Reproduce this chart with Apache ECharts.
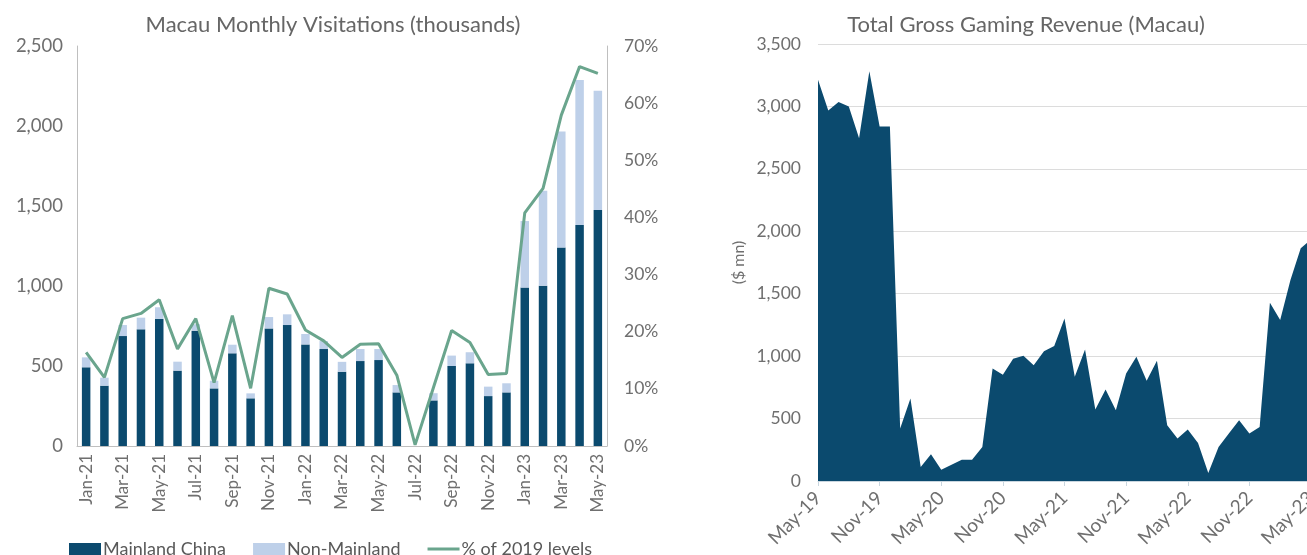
<!DOCTYPE html>
<html>
<head>
<meta charset="utf-8">
<title>Macau visitations and GGR</title>
<script src="https://cdn.jsdelivr.net/npm/echarts@6/dist/echarts.min.js"></script>
<style>
    html, body { margin: 0; padding: 0; overflow: hidden; background: #fff; }
    #main { width: 1340px; height: 555px; }
</style>
</head>
<body>
<div id="main"></div>
<script>
    // left chart: monthly visitations (thousands)
    var visitMonths = ['Jan-21','Feb-21','Mar-21','Apr-21','May-21','Jun-21','Jul-21','Aug-21','Sep-21','Oct-21','Nov-21','Dec-21',
        'Jan-22','Feb-22','Mar-22','Apr-22','May-22','Jun-22','Jul-22','Aug-22','Sep-22','Oct-22','Nov-22','Dec-22',
        'Jan-23','Feb-23','Mar-23','Apr-23','May-23'];
    var mainland = [492,377,687,729,794,471,721,360,579,298,735,756,635,606,464,531,537,335,0,285,500,517,312,335,990,1002,1240,1381,1475];
    var nonMainland = [62,50,69,73,73,56,40,48,54,31,71,67,65,50,62,75,69,46,0,45,65,69,59,57,416,594,725,907,746];
    var pctOf2019 = [16.4,12.0,22.3,23.2,25.6,17.0,22.3,11.1,22.8,10.1,27.6,26.6,20.3,18.4,15.5,17.8,17.9,12.4,0.2,10.2,20.2,18.1,12.5,12.7,40.8,45.1,57.9,66.4,65.2];

    // right chart: total gross gaming revenue ($ mn)
    var ggrMonths = ['May-19','Jun-19','Jul-19','Aug-19','Sep-19','Oct-19','Nov-19','Dec-19',
        'Jan-20','Feb-20','Mar-20','Apr-20','May-20','Jun-20','Jul-20','Aug-20','Sep-20','Oct-20','Nov-20','Dec-20',
        'Jan-21','Feb-21','Mar-21','Apr-21','May-21','Jun-21','Jul-21','Aug-21','Sep-21','Oct-21','Nov-21','Dec-21',
        'Jan-22','Feb-22','Mar-22','Apr-22','May-22','Jun-22','Jul-22','Aug-22','Sep-22','Oct-22','Nov-22','Dec-22',
        'Jan-23','Feb-23','Mar-23','Apr-23','May-23'];
    var ggr = [3214,2968,3035,3000,2746,3281,2840,2840,
        420,660,112,214,91,131,171,171,273,901,850,980,
        1003,927,1039,1082,1301,834,1054,572,733,567,861,995,
        802,963,447,340,412,305,64,273,380,487,380,433,
        1428,1289,1610,1864,1935];

    var navy = '#0b4a6e';
    var lightBlue = '#bed0e9';
    var green = '#6aa58d';
    var gray = '#6f6f6f';
    var font = 'Lato';

    var myChart = echarts.init(document.getElementById('main'));
    var option = {
        animation: false,
        textStyle: { fontFamily: font },
        title: [
            {
                text: 'Macau Monthly Visitations (thousands)',
                left: 328, top: 9, textAlign: 'center',
                textStyle: { fontFamily: font, fontSize: 22, fontWeight: 'normal', color: '#666' }
            },
            {
                text: 'Total Gross Gaming Revenue (Macau)',
                left: 1021, top: 9, textAlign: 'center',
                textStyle: { fontFamily: font, fontSize: 22, fontWeight: 'normal', color: '#666' }
            }
        ],
        legend: {
            left: 64, top: 535,
            itemWidth: 32, itemHeight: 12, itemGap: 27,
            textStyle: { fontFamily: font, fontSize: 18, color: '#595959', padding: [0, 0, 0, -3] },
            data: [
                { name: 'Mainland China', icon: 'rect' },
                { name: 'Non-Mainland', icon: 'rect' },
                { name: '% of 2019 levels', icon: 'path://M0,0 L32,0 L32,3 L0,3 Z', itemStyle: { color: green } }
            ]
        },
        grid: [
            { left: 77, width: 530, top: 46, height: 400 },
            { left: 818, width: 493, top: 44, height: 437 }
        ],
        xAxis: [
            {
                type: 'category', gridIndex: 0, data: visitMonths,
                axisLine: { lineStyle: { color: '#bfbfbf' } },
                axisTick: { show: false },
                axisLabel: { rotate: 90, interval: 1, fontSize: 17, color: gray, margin: 8 }
            },
            {
                type: 'category', gridIndex: 1, data: ggrMonths, boundaryGap: false,
                axisLine: { lineStyle: { color: '#c9d6df' } },
                axisTick: { show: true, interval: 5, length: 5, lineStyle: { color: '#c9d6df' } },
                axisLabel: { rotate: 45, interval: 5, fontSize: 19, color: gray, margin: 14 }
            }
        ],
        yAxis: [
            {
                type: 'value', gridIndex: 0, min: 0, max: 2500, interval: 500,
                axisLine: { show: true, lineStyle: { color: '#bfbfbf' } },
                splitLine: { show: false },
                axisLabel: { fontSize: 18.5, color: gray, margin: 14,
                    formatter: function (v) { return v.toLocaleString('en-US'); } }
            },
            {
                type: 'value', gridIndex: 0, min: 0, max: 70, interval: 10, position: 'right',
                axisLine: { show: true, lineStyle: { color: '#bfbfbf' } },
                splitLine: { show: false },
                axisLabel: { fontSize: 17.5, color: gray, margin: 17, formatter: '{value}%' }
            },
            {
                type: 'value', gridIndex: 1, min: 0, max: 3500, interval: 500,
                name: '($ mn)', nameLocation: 'middle', nameGap: 71, nameRotate: 90,
                nameTextStyle: { fontFamily: font, fontSize: 16, color: gray },
                axisLine: { show: false },
                splitLine: { lineStyle: { color: '#dcdcdc' } },
                axisLabel: { fontSize: 17.5, color: gray, margin: 17,
                    formatter: function (v) { return v.toLocaleString('en-US'); } }
            }
        ],
        series: [
            {
                name: 'Mainland China', type: 'bar', stack: 'visits',
                xAxisIndex: 0, yAxisIndex: 0, barWidth: 8.5,
                itemStyle: { color: navy }, data: mainland
            },
            {
                name: 'Non-Mainland', type: 'bar', stack: 'visits',
                xAxisIndex: 0, yAxisIndex: 0, barWidth: 8.5,
                itemStyle: { color: lightBlue }, data: nonMainland
            },
            {
                name: '% of 2019 levels', type: 'line',
                xAxisIndex: 0, yAxisIndex: 1, symbol: 'none',
                lineStyle: { color: green, width: 3 }, itemStyle: { color: green },
                data: pctOf2019
            },
            {
                name: 'GGR', type: 'line',
                xAxisIndex: 1, yAxisIndex: 2, symbol: 'none',
                lineStyle: { width: 0 },
                areaStyle: { color: navy, opacity: 1 },
                data: ggr
            }
        ]
    };
    myChart.setOption(option);
</script>
</body>
</html>
